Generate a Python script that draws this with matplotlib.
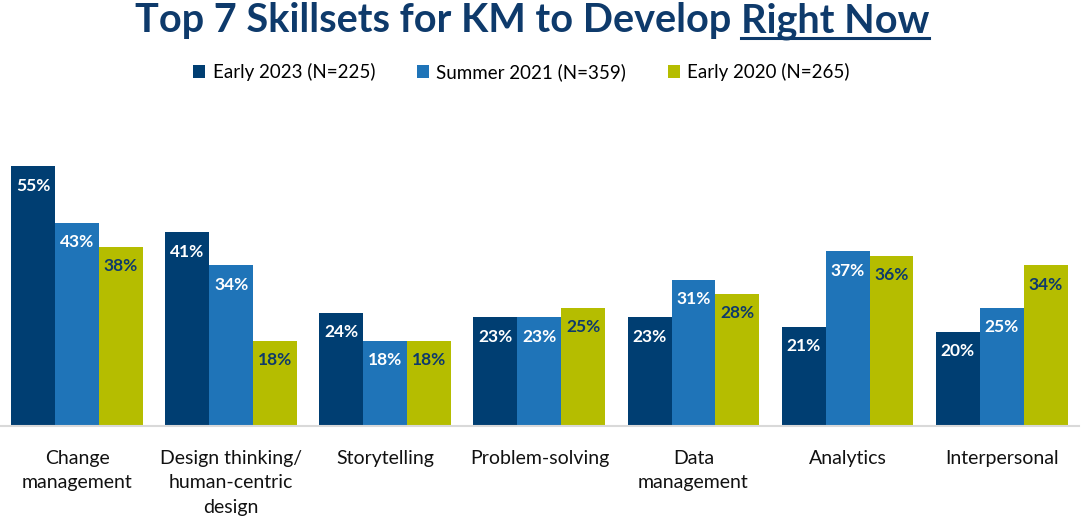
import matplotlib.pyplot as plt
import numpy as np
from matplotlib.lines import Line2D

plt.rcParams['font.family'] = ['Lato', 'DejaVu Sans']

categories = ['Change\nmanagement', 'Design thinking/\nhuman-centric\ndesign', 'Storytelling',
              'Problem-solving', 'Data\nmanagement', 'Analytics', 'Interpersonal']
series_names = ['Early 2023 (N=225)', 'Summer 2021 (N=359)', 'Early 2020 (N=265)']
early_2023 = [55, 41, 24, 23, 23, 21, 20]
summer_2021 = [43, 34, 18, 23, 31, 37, 25]
early_2020 = [38, 18, 18, 25, 28, 36, 34]

colors = ['#003E72', '#1F74B8', '#B5BD00']
label_colors = ['white', 'white', '#0E3A6B']
navy = '#0E3A6B'

fig = plt.figure(figsize=(10.82, 5.24), dpi=100)
ax = fig.add_axes([0.0, 0.187, 0.997, 0.622])

x = np.arange(len(categories))
w = 0.285
for i, vals in enumerate([early_2023, summer_2021, early_2020]):
    pos = x + (i - 1) * w
    ax.bar(pos, vals, w, color=colors[i], label=series_names[i])
    for p, v in zip(pos, vals):
        ax.text(p, v - 2.4, f'{v}%', ha='center', va='top', color=label_colors[i],
                fontsize=12.5, fontweight='bold')

ax.set_xlim(-0.5, len(categories) - 0.5)
ax.set_ylim(0, 69)
ax.set_yticks([])
ax.set_xticks(x)
ax.set_xticklabels(categories, fontsize=14, color='#111111', linespacing=1.55)
ax.tick_params(axis='x', length=0, pad=17)
for s in ['top', 'right', 'left']:
    ax.spines[s].set_visible(False)
ax.spines['bottom'].set_color('#d9d9d9')
ax.spines['bottom'].set_linewidth(1.5)

fig.legend(loc='center', bbox_to_anchor=(0.482, 1 - 72 / 524), ncol=3, frameon=False,
           fontsize=13.5, handlelength=0.65, handleheight=0.65, handletextpad=0.4,
           columnspacing=2.2)

# title with underlined "Right Now"
fig.canvas.draw()
r = fig.canvas.get_renderer()
tsize = 28.5
t1 = fig.text(0, 0, 'Top 7 Skillsets for KM to Develop ', fontsize=tsize, fontweight='bold', color=navy)
t2 = fig.text(0, 0, 'Right Now', fontsize=tsize, fontweight='bold', color=navy)
w1 = t1.get_window_extent(r).width
w2 = t2.get_window_extent(r).width
W = fig.bbox.width
start = 532 - (w1 + w2) / 2
ybase = 1 - 32 / 524
t1.set_position((start / W, ybase))
t2.set_position(((start + w1) / W, ybase))
fig.canvas.draw()
b = t2.get_window_extent(r)
uy = (524 - 38) / 524
fig.add_artist(Line2D([b.x0 / W, b.x1 / W], [uy, uy], transform=fig.transFigure,
                      color=navy, linewidth=2.2))

fig.savefig('out.png', dpi=100)
